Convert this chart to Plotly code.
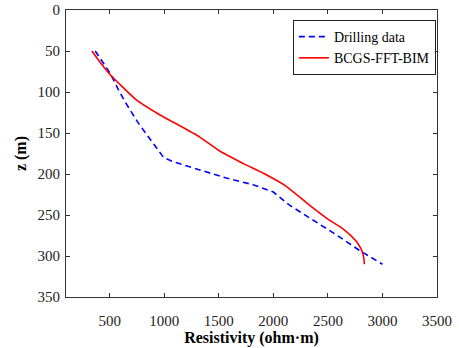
import plotly.graph_objects as go

# Drilling data (blue dashed)
drill_rho = [368, 504, 580, 641, 763, 854, 931, 995, 1081, 1326, 1570, 1813, 2000, 2148, 2361, 2575, 2787, 3000]
drill_z   = [50,  77,  97,  112, 138, 154, 169, 180, 185,  195,  205,  213,  222,  238,  256,  274,  293,  310]

# BCGS-FFT-BIM inversion (red solid)
bim_rho = [337, 420, 505, 596, 748, 961, 1114, 1326, 1509, 1722, 1935, 2118, 2331, 2500, 2650, 2760, 2810, 2830, 2834]
bim_z   = [50,  65,  79,  91,  110, 128, 139,  155,  172,  187,  201,  215,  238,  255,  268,  282,  293,  303,  310]

x_ticks = [500, 1000, 1500, 2000, 2500, 3000, 3500]
y_ticks = [0, 50, 100, 150, 200, 250, 300, 350]

font = "Times New Roman, Liberation Serif, serif"

fig = go.Figure()
fig.add_trace(go.Scatter(x=drill_rho, y=drill_z, mode="lines", name="Drilling data",
                         line=dict(color="#0000ff", width=1.6, dash="6px,4px")))
fig.add_trace(go.Scatter(x=bim_rho, y=bim_z, mode="lines", name="BCGS-FFT-BIM",
                         line=dict(color="#ff0000", width=1.6, shape="spline", smoothing=0.6)))

axis_common = dict(showline=True, linecolor="#333333", linewidth=1, mirror="ticks",
                   ticks="inside", ticklen=4, tickcolor="#333333", showgrid=False,
                   zeroline=False, automargin=False,
                   tickfont=dict(family=font, size=15, color="#222222"))

fig.update_layout(
    width=459, height=348,
    margin=dict(l=66, r=22, t=10, b=51),
    paper_bgcolor="white", plot_bgcolor="white",
    font=dict(family=font, color="#000000"),
    xaxis=dict(range=[100, 3500], tickvals=x_ticks, ticklabelstandoff=10,
               title=dict(text="<b>Resistivity (ohm·m)</b>", font=dict(family=font, size=16), standoff=2),
               **axis_common),
    yaxis=dict(range=[350, 0], tickvals=y_ticks, ticklabelstandoff=2,
               title=dict(text="<b>z (m)</b>", font=dict(family=font, size=16), standoff=6),
               **axis_common),
    legend=dict(x=0.997, y=0.965, xanchor="right", yanchor="top",
                bgcolor="white", bordercolor="#222222", borderwidth=1,
                font=dict(family=font, size=14), tracegroupgap=0,
                itemwidth=30, valign="middle"),
    showlegend=True,
)

fig.write_html("out.html")
